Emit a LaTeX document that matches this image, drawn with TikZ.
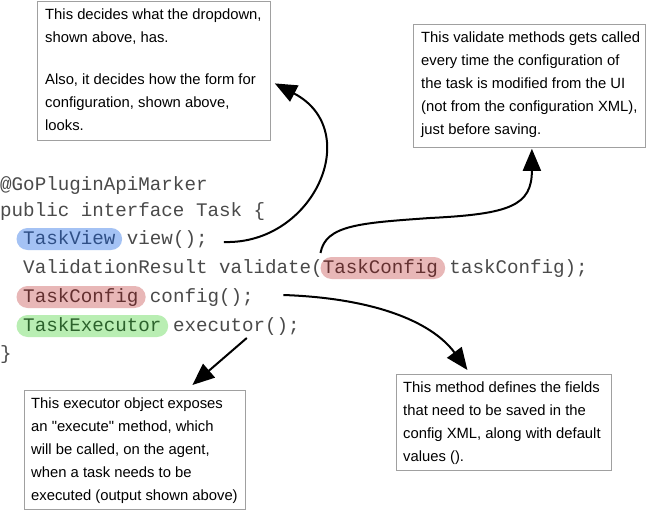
\documentclass[tikz,border=0pt]{standalone}
\usepackage{fontspec}
\setmainfont{Liberation Sans}
\newfontfamily\codefont{Liberation Mono}
\usetikzlibrary{arrows.meta,calc,backgrounds}
\definecolor{notegray}{HTML}{A0A0A0}
\definecolor{codegray}{HTML}{4A4A4A}
\definecolor{bluefill}{HTML}{A4C2F4}
\definecolor{bluetext}{HTML}{2F4F86}
\definecolor{redfill}{HTML}{E8B7B7}
\definecolor{redtext}{HTML}{633030}
\definecolor{greenfill}{HTML}{B9EEB3}
\definecolor{greentext}{HTML}{2C622C}
\begin{document}
\begin{tikzpicture}[x=1pt,y=-1pt,
  notebox/.style={draw=notegray, line width=0.8pt, fill=white, inner sep=0pt, anchor=north west},
  notetext/.style={anchor=north west, inner sep=0pt, align=left, font=\fontsize{14.8}{23}\selectfont, text=black},
  code/.style={anchor=base west, inner sep=0pt, font=\codefont\fontsize{19.2}{23}\selectfont, text=codegray},
  pill/.style={rounded corners=11pt},
  arr/.style={line width=2pt, black, -{Triangle[length=22pt,width=18pt]}},
]
\useasboundingbox (0,0) rectangle (651,511);

% ---- note boxes ----
\node[notebox, minimum width=233pt, minimum height=139pt] (b1) at (37,1) {};
\node[notetext] (t1) at (45,9) {This decides what the dropdown,\\ shown above, has.\\[19pt] Also, it decides how the form for\\ configuration, shown above,\\ looks.};

\node[notebox, minimum width=232pt, minimum height=123pt] (b2) at (413,24) {};
\node[notetext] (t2) at (421,32) {This validate methods gets called\\ every time the configuration of\\ the task is modified from the UI\\ (not from the configuration XML),\\ just before saving.};

\node[notebox, minimum width=221pt, minimum height=119pt] (b3) at (24,390) {};
\node[notetext] (t3) at (31,398) {This executor object exposes\\ an \textquotedbl execute\textquotedbl\ method, which\\ will be called, on the agent,\\ when a task needs to be\\ executed (output shown above)};

\node[notebox, minimum width=215pt, minimum height=96pt] (b4) at (396,374) {};
\node[notetext] (t4) at (403,382) {This method defines the fields\\ that need to be saved in the\\ config XML, along with default\\ values ().};

% ---- code ----
\node[code] (l1) at (0,190.5) {@GoPluginApiMarker};
\node[code] (l2) at (0,216) {public interface Task \{};

\node[code, text=bluetext] (tv) at (23.04,244.5) {TaskView};
\node[code] (view) at (126.72,244.5) {view();};

\node[code] (val) at (23.04,273.5) {ValidationResult validate(};
\node[code, text=redtext] (tc1) at (322.56,273.5) {TaskConfig};
\node[code] (arg) at (449.28,273.5) {taskConfig);};

\node[code, text=redtext] (tc2) at (23.04,302.5) {TaskConfig};
\node[code] (cfg) at (149.76,302.5) {config();};

\node[code, text=greentext] (te) at (23.04,331.5) {TaskExecutor};
\node[code] (exe) at (172.8,331.5) {executor();};

\node[code] (l7) at (0,359.5) {\}};

\begin{scope}[on background layer]
  \fill[white] (0,0) rectangle (651,511);
  \fill[bluefill, pill] ($(tv.base west)+(-6.5,-16.5)$) rectangle ($(tv.base east)+(6.5,5.5)$);
  \fill[redfill, pill] ($(tc1.base west)+(-2,-16.5)$) rectangle ($(tc1.base east)+(7,5.5)$);
  \fill[redfill, pill] ($(tc2.base west)+(-6.5,-16.5)$) rectangle ($(tc2.base east)+(7,5.5)$);
  \fill[greenfill, pill] ($(te.base west)+(-6.5,-16.5)$) rectangle ($(te.base east)+(6.5,5.5)$);
\end{scope}

% ---- connectors ----
\draw[arr] ([xshift=16pt,yshift=2.5pt]view.base east) .. controls +(90,3) and +(90,47) .. ([shift={(4,12.5)}]b1.east);
\draw[arr] ([xshift=-2.5pt,yshift=20.5pt]val.base east) .. controls +(5,-28) and +(-70,5) .. (430,218)
  .. controls +(80,-4) and +(0,57) .. ([xshift=2.5pt,yshift=-1pt]b2.south);
\draw[arr] ([xshift=29.5pt,yshift=7.5pt]cfg.base east) .. controls +(87,3) and +(-37,-50) .. ([xshift=-36.5pt,yshift=4pt]b4.north);
\draw[arr] ([xshift=74pt,yshift=-6.5pt]exe.base west) -- ([xshift=57.5pt,yshift=5pt]b3.north);
\end{tikzpicture}
\end{document}
